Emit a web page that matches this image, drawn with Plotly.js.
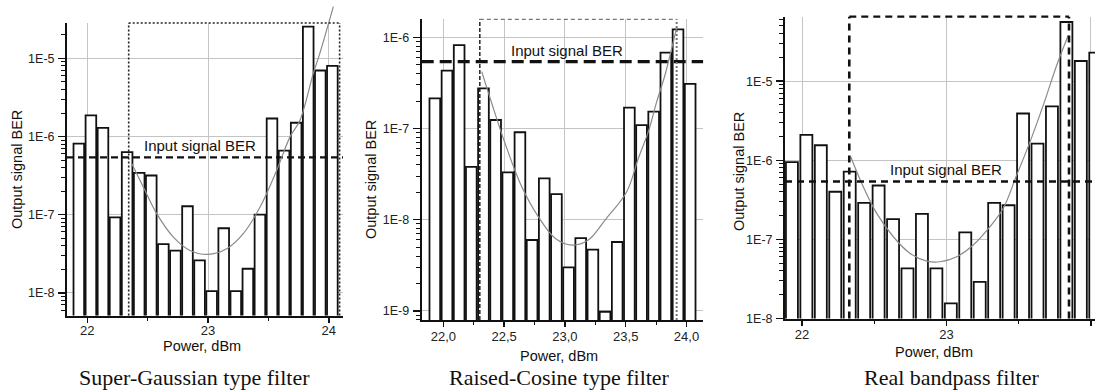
<!DOCTYPE html>
<html><head><meta charset="utf-8">
<script src="https://cdn.plot.ly/plotly-3.0.1.min.js"></script>
<style>html,body{margin:0;padding:0;background:#fff}#chart{width:1095px;height:392px}</style>
</head><body><div id="chart"></div>
<script>
// ---------------- data ----------------
const power = [21.93,22.03,22.13,22.23,22.33,22.43,22.53,22.63,22.73,22.83,22.93,23.03,23.13,23.23,23.33,23.43,23.53,23.63,23.73,23.83,23.93,24.03];

const berSuperGaussian = [8.1e-7,1.86e-6,1.29e-6,9.2e-8,6.3e-7,3.43e-7,3.17e-7,4.2e-8,3.47e-8,1.28e-7,2.6e-8,1.05e-8,6.7e-8,1.05e-8,2.03e-8,1.0e-7,1.7e-6,6.6e-7,1.5e-6,2.55e-5,7.0e-6,8.0e-6];
const berRaisedCosine  = [2.14e-7,4.3e-7,8.2e-7,3.8e-8,2.76e-7,1.24e-7,3.3e-8,9.1e-8,6.0e-9,2.84e-8,1.91e-8,3.0e-9,6.3e-9,4.7e-9,9.8e-10,5.7e-9,1.69e-7,1.09e-7,1.53e-7,6.8e-7,1.22e-6,3.08e-7];
const berRealBandpass  = [9.5e-7,2.1e-6,1.55e-6,4.0e-7,7.2e-7,2.9e-7,4.8e-7,1.8e-7,4.3e-8,2.1e-7,4.3e-8,1.55e-8,1.23e-7,2.9e-8,2.9e-7,2.7e-7,3.9e-6,1.62e-6,4.8e-6,5.6e-5,1.8e-5,2.3e-5];

const fitSGx = [22.368,22.464,22.575,22.713,22.851,22.998,23.155,23.292,23.431,23.569,23.679,23.762,23.872,23.926,24.038];
const fitSGy = [4.51e-7,2.26e-7,1.03e-7,5.16e-8,3.48e-8,3.10e-8,3.66e-8,5.70e-8,1.25e-7,3.70e-7,9.89e-7,1.62e-6,6.43e-6,1.16e-5,4.59e-5];
const fitRCx = [22.316,22.398,22.507,22.645,22.781,22.919,23.056,23.192,23.330,23.508,23.604,23.686,23.755,23.823,23.878,23.919];
const fitRCy = [4.20e-7,1.89e-7,6.89e-8,2.30e-8,1.08e-8,6.27e-9,5.28e-9,6.0e-9,9.93e-9,2.03e-8,4.72e-8,9.23e-8,1.97e-7,3.86e-7,7.57e-7,1.26e-6];
const fitRBx = [22.337,22.424,22.517,22.632,22.747,22.863,22.955,23.071,23.185,23.301,23.393,23.486,23.578,23.670,23.763,23.843];
const fitRBy = [1.11e-6,4.62e-7,2.13e-7,1.08e-7,6.67e-8,5.32e-8,5.22e-8,6.04e-8,8.49e-8,1.45e-7,2.47e-7,6.50e-7,1.71e-6,4.98e-6,1.59e-5,3.81e-5];

const inputBER = 5.4e-7;
const windowSG = [22.343, 24.09];
const windowRC = [22.30, 23.919];
const windowRB = [22.327, 23.848];

const captions = ["Super-Gaussian type filter", "Raised-Cosine type filter", "Real bandpass filter"];
const xTitle = "Power, dBm";
const yTitle = "Output signal BER";
const berLabel = "Input signal BER";
const xTicksInt = [22, 23, 24];
const xTicksIntText = ["22", "23", "24"];
const xTicksHalf = [22, 22.5, 23, 23.5, 24];
const xTicksHalfText = ["22,0", "22,5", "23,0", "23,5", "24,0"];
const yTicks58 = [1e-8, 1e-7, 1e-6, 1e-5];
const yTicks58Text = ["1E-8", "1E-7", "1E-6", "1E-5"];
const yTicks69 = [1e-9, 1e-8, 1e-7, 1e-6];
const yTicks69Text = ["1E-9", "1E-8", "1E-7", "1E-6"];

// ---------------- layout helpers ----------------
const W = 1095, H = 392;
const px = v => v / W;
const py = v => (H - v) / H;
const SANS = "Liberation Sans, Arial, sans-serif";
const SERIF = "Liberation Serif, Times New Roman, serif";

function minorLog(r0, r1) {
  const out = [];
  for (let n = Math.floor(r0); n <= Math.ceil(r1); n++)
    for (let k = 2; k <= 9; k++) {
      const l = n + Math.log10(k);
      if (l > r0 && l < r1) out.push(k * Math.pow(10, n));
    }
  return out;
}

function xAxis(l, r, range, tv, tt, minorVals, anchor, standoff) {
  return {
    domain: [px(l), px(r)], range: range, anchor: anchor,
    showline: true, linecolor: "#111", linewidth: 2, mirror: false, zeroline: false,
    showgrid: true, gridcolor: "#c4c4c4", gridwidth: 1,
    tickmode: "array", tickvals: tv, ticktext: tt,
    ticks: "outside", ticklen: 5, tickwidth: 1.5, tickcolor: "#111",
    ticklabelstandoff: standoff,
    tickfont: {family: SANS, size: 13, color: "#222"},
    minor: {tickmode: "array", tickvals: minorVals, ticks: "outside", ticklen: 3, tickwidth: 1.2, tickcolor: "#111", showgrid: false},
    fixedrange: true
  };
}
function yAxis(top, bottom, range, tv, tt, anchor) {
  return {
    type: "log", domain: [py(bottom), py(top)], range: range, anchor: anchor,
    showline: true, linecolor: "#111", linewidth: 2, mirror: false, zeroline: false,
    showgrid: true, gridcolor: "#c4c4c4", gridwidth: 1,
    tickmode: "array", tickvals: tv, ticktext: tt,
    ticks: "outside", ticklen: 7, tickwidth: 1.5, tickcolor: "#111",
    ticklabelstandoff: 1,
    tickfont: {family: SANS, size: 12.5, color: "#222"},
    minor: {tickmode: "array", tickvals: minorLog(range[0], range[1]), ticks: "outside", ticklen: 4, tickwidth: 1, tickcolor: "#111", showgrid: false},
    fixedrange: true
  };
}

// panel geometry (px)
const P1 = {l: 67, r: 343, top: 23, bottom: 315.5, xr: [21.832, 24.118], yr: [-8.291, -4.547]};
const P2 = {l: 421.7, r: 703.3, top: 19.3, bottom: 320, xr: [21.822, 24.138], yr: [-9.099, -5.803]};
const P3 = {l: 785, r: 1095, top: 16.7, bottom: 318.5, xr: [21.882, 24.028], yr: [-8, -4.185]};
const P1curveTop = P1.yr[0] + P1.bottom / ((P1.bottom - P1.top) / (P1.yr[1] - P1.yr[0]));

function bars(y, xa, ya, w) {
  return {type: "bar", x: power, y: y, xaxis: xa, yaxis: ya, width: w,
    marker: {color: "#fff", line: {color: "#111", width: 1.8}}, hoverinfo: "skip"};
}
function fit(x, y, xa, ya) {
  return {type: "scatter", mode: "lines", x: x, y: y, xaxis: xa, yaxis: ya,
    line: {color: "#8a8a8a", width: 1.2, shape: "spline", smoothing: 1}, hoverinfo: "skip"};
}
function berLine(xr, xa, ya, dash, w) {
  return {type: "scatter", mode: "lines", x: xr, y: [inputBER, inputBER], xaxis: xa, yaxis: ya,
    line: {color: "#111", width: w, dash: dash}, hoverinfo: "skip"};
}

const data = [
  bars(berSuperGaussian, "x", "y", 0.088),
  bars(berRaisedCosine, "x2", "y2", 0.088),
  bars(berRealBandpass, "x3", "y3", 0.083),
  fit(fitRCx, fitRCy, "x2", "y2"),
  fit(fitRBx, fitRBy, "x3", "y3"),
  berLine(P1.xr, "x", "y", "7px,4px", 2.2),
  berLine(P2.xr, "x2", "y2", "12px,6px", 3.2),
  berLine(P3.xr, "x3", "y3", "7px,5px", 2.4),
  fit(fitSGx, fitSGy, "x4", "y4")
];

function vline(x, xa, ya, color, w, dash) {
  return {type: "line", xref: xa, yref: ya + " domain", x0: x, x1: x, y0: 0, y1: 1, line: {color: color, width: w, dash: dash}};
}
function hline(x0, x1, xa, ya, color, w, dash) {
  return {type: "line", xref: xa, yref: ya + " domain", x0: x0, x1: x1, y0: 1, y1: 1, line: {color: color, width: w, dash: dash}};
}

const shapes = [
  vline(windowSG[0], "x", "y", "#222", 1.6, "2px,2px"),
  vline(windowSG[1], "x", "y", "#222", 1.6, "2px,2px"),
  hline(windowSG[0], windowSG[1], "x", "y", "#222", 1.6, "2px,2px"),
  vline(windowRC[0], "x2", "y2", "#111", 1.4, "4px,2px"),
  hline(windowRC[0], windowRC[1], "x2", "y2", "#777", 1.3, "4px,3px"),
  vline(windowRC[1], "x2", "y2", "#777", 2, "2px,2px"),
  vline(windowRB[0], "x3", "y3", "#111", 2.6, "7px,5px"),
  vline(windowRB[1], "x3", "y3", "#111", 2.6, "7px,5px"),
  hline(windowRB[0], windowRB[1], "x3", "y3", "#111", 2.2, "7px,5px")
];

function pAnn(text, x, y, size, family, angle) {
  return {text: text, xref: "paper", yref: "paper", x: px(x), y: py(y), xanchor: "center", yanchor: "middle",
    showarrow: false, textangle: angle || 0, font: {family: family, size: size, color: "#111"}};
}
function berAnn(x, xa, ya) {
  return {text: berLabel, xref: xa, yref: ya, x: x, y: Math.log10(inputBER), xanchor: "center", yanchor: "bottom",
    yshift: 1, showarrow: false, font: {family: SANS, size: 15, color: "#111"}};
}

const annotations = [
  berAnn(22.934, "x", "y"), berAnn(23.015, "x2", "y2"), berAnn(22.994, "x3", "y3"),
  pAnn(xTitle, 202, 346, 14.5, SANS), pAnn(xTitle, 559, 356, 14.5, SANS), pAnn(xTitle, 934, 352, 14.5, SANS),
  pAnn(yTitle, 17, 170, 14.5, SANS, -90), pAnn(yTitle, 371, 180, 14.5, SANS, -90), pAnn(yTitle, 739, 172, 14.5, SANS, -90),
  pAnn(captions[0], 194, 377, 22, SERIF), pAnn(captions[1], 559, 377, 22, SERIF), pAnn(captions[2], 951, 377, 22, SERIF)
];

const layout = {
  width: W, height: H, margin: {l: 0, r: 0, t: 0, b: 0},
  paper_bgcolor: "#fff", plot_bgcolor: "rgba(0,0,0,0)",
  showlegend: false, hovermode: false, bargap: 0,
  xaxis: xAxis(P1.l, P1.r, P1.xr, xTicksInt, xTicksIntText, [22.5, 23.5], "y", -3),
  yaxis: yAxis(P1.top, P1.bottom, P1.yr, yTicks58, yTicks58Text, "x"),
  xaxis2: xAxis(P2.l, P2.r, P2.xr, xTicksHalf, xTicksHalfText, [22.25, 22.75, 23.25, 23.75], "y2", -2),
  yaxis2: yAxis(P2.top, P2.bottom, P2.yr, yTicks69, yTicks69Text, "x2"),
  xaxis3: xAxis(P3.l, P3.r, P3.xr, xTicksInt, xTicksIntText, [22.5, 23.5], "y3", -2),
  yaxis3: yAxis(P3.top, P3.bottom, P3.yr, yTicks58, yTicks58Text, "x3"),
  xaxis4: {domain: [px(P1.l), px(P1.r)], range: P1.xr, anchor: "y4", visible: false, fixedrange: true},
  yaxis4: {type: "log", domain: [py(P1.bottom), 1], range: [P1.yr[0], P1curveTop], anchor: "x4", visible: false, fixedrange: true},
  shapes: shapes, annotations: annotations
};

Plotly.newPlot("chart", data, layout, {staticPlot: true, displayModeBar: false});
</script></body></html>
